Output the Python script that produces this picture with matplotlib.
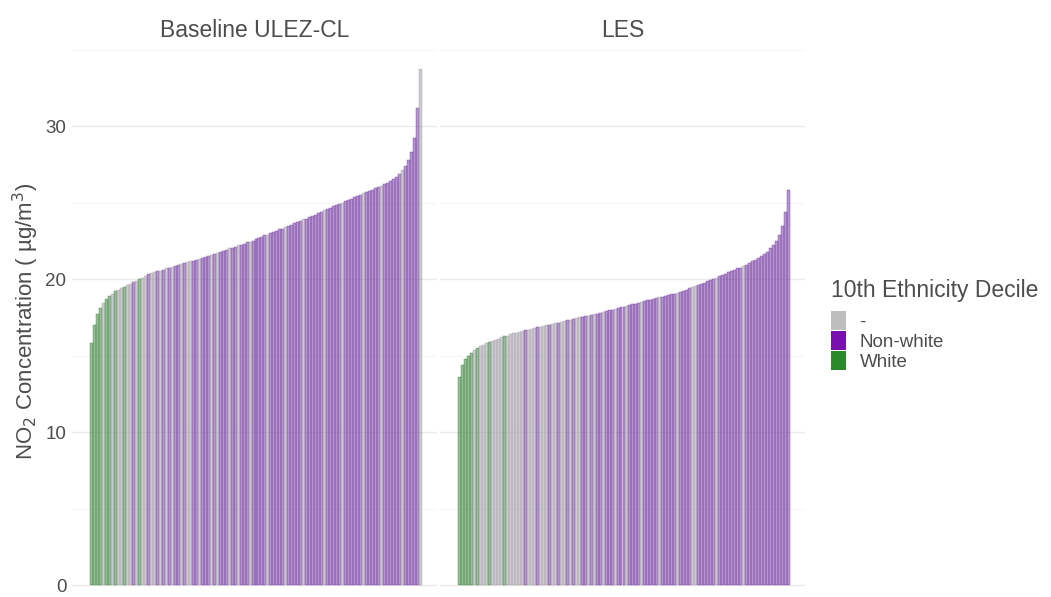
import matplotlib
matplotlib.use("Agg")
import matplotlib.pyplot as plt
from matplotlib.patches import Patch
from matplotlib.colors import to_rgba
import numpy as np

plt.rcParams['font.family'] = ['Liberation Sans', 'DejaVu Sans']

# Sorted NO2 concentration per area (ug/m3)
baseline_no2 = [
    15.8, 17.0, 17.7, 18.1, 18.45, 18.7, 18.9, 19.05, 19.2, 19.3,
    19.4, 19.5, 19.6, 19.7, 19.8, 19.9, 20.0, 20.1, 20.2, 20.3,
    20.4, 20.45, 20.5, 20.55, 20.6, 20.7, 20.75, 20.8, 20.85, 20.9,
    21.0, 21.05, 21.1, 21.15, 21.2, 21.25, 21.3, 21.4, 21.45, 21.5,
    21.6, 21.65, 21.7, 21.8, 21.85, 21.9, 22.0, 22.05, 22.1, 22.2,
    22.25, 22.3, 22.4, 22.45, 22.5, 22.6, 22.7, 22.75, 22.85, 22.9,
    23.0, 23.1, 23.15, 23.25, 23.3, 23.4, 23.5, 23.55, 23.65, 23.7,
    23.8, 23.9, 23.95, 24.05, 24.15, 24.2, 24.3, 24.4, 24.5, 24.55,
    24.65, 24.75, 24.85, 24.9, 25.0, 25.1, 25.2, 25.25, 25.35, 25.45,
    25.5, 25.6, 25.7, 25.75, 25.85, 25.95, 26.0, 26.1, 26.2, 26.3,
    26.4, 26.55, 26.7, 26.9, 27.1, 27.4, 27.8, 28.3, 29.2, 31.2, 33.7,
]
les_no2 = [
    13.6, 14.4, 14.75, 15.0, 15.2, 15.35, 15.5, 15.6, 15.7, 15.8,
    15.9, 15.95, 16.05, 16.1, 16.2, 16.25, 16.3, 16.4, 16.45, 16.5,
    16.55, 16.6, 16.65, 16.7, 16.75, 16.8, 16.85, 16.9, 16.95, 17.0,
    17.0, 17.05, 17.1, 17.15, 17.2, 17.25, 17.3, 17.35, 17.4, 17.45,
    17.5, 17.55, 17.6, 17.6, 17.65, 17.7, 17.75, 17.8, 17.85, 17.9,
    17.95, 18.0, 18.05, 18.1, 18.15, 18.2, 18.25, 18.3, 18.35, 18.4,
    18.45, 18.5, 18.55, 18.6, 18.65, 18.7, 18.75, 18.8, 18.85, 18.9,
    18.95, 19.0, 19.05, 19.1, 19.15, 19.25, 19.3, 19.4, 19.45, 19.55,
    19.6, 19.7, 19.75, 19.85, 19.95, 20.0, 20.1, 20.2, 20.25, 20.35,
    20.45, 20.5, 20.6, 20.7, 20.75, 20.85, 20.95, 21.05, 21.15, 21.25,
    21.35, 21.5, 21.65, 21.8, 22.0, 22.2, 22.5, 22.9, 23.5, 24.4, 25.8,
]

# ethnicity group per bar: W = White, N = Non-white, - = neither
baseline_group = ("WWWW-WW-W-" "-W--N-W--N" "--N-N-N-NN" "-N--NN-NNN"
                  "-N-NNN-NN-" "NNN-NNNNN-" "NNNNN-NNNN" "N-NNNNNN-N"
                  "NNNN-NNNNN" "N-NNNNN-NN" "NNNN-NNNNN-")
les_group = ("WWWWW-W---" "W----W----" "--N---N---" "N--N--N-N-"
             "-NN-N-NN-N" "NN-NNN-NNN" "N-NNNNN-NN" "NNN-NNNN--"
             "NNNNNN-NNN" "NNNNN-NNNN" "NNNNNNNNNNN")

panels = ['Baseline ULEZ-CL', 'LES']
group_names = {'-': '-', 'N': 'Non-white', 'W': 'White'}
group_colors = {'-': '#bebebe', 'N': '#7a0fb0', 'W': '#2a8a2a'}
bar_colors = {'-': '#9c99a2', 'N': '#6c2c9c', 'W': '#2e7d32'}

fig = plt.figure(figsize=(10.51, 5.97), dpi=100)
ax_left = fig.add_axes([72/1051, 0, 365/1051, 552/597])
ax_right = fig.add_axes([440/1051, 0, 365/1051, 552/597])

for ax, title, vals, groups in [(ax_left, panels[0], baseline_no2, baseline_group),
                                 (ax_right, panels[1], les_no2, les_group)]:
    x = np.arange(len(vals))
    faces = [to_rgba(bar_colors[g], 0.5) for g in groups]
    edges = [to_rgba(bar_colors[g], 0.75) for g in groups]
    ax.bar(x, vals, width=1.0, color=faces, edgecolor=edges, linewidth=0.35, zorder=2)
    ax.set_xlim(-6.5, 115.5)
    ax.set_ylim(-0.78, 35.3)
    ax.set_yticks([0, 10, 20, 30])
    ax.set_yticks([5, 15, 25, 35], minor=True)
    ax.grid(axis='y', which='major', color='#ebebeb', linewidth=1.0, zorder=0)
    ax.grid(axis='y', which='minor', color='#f4f4f4', linewidth=0.6, zorder=0)
    ax.set_xticks([])
    for s in ax.spines.values():
        s.set_visible(False)
    ax.tick_params(axis='y', which='both', length=0, labelsize=13.5,
                   labelcolor='#4d4d4d', pad=4)
    ax.set_title(title, fontsize=16.5, color='#4d4d4d', pad=6, y=1.0)

ax_right.tick_params(axis='y', labelleft=False)
ax_left.set_ylabel('NO$_2$ Concentration ( µg/m$^3$)', fontsize=16,
                   color='#4d4d4d', labelpad=3)

handles = [Patch(facecolor=group_colors[k], edgecolor='none') for k in ['-', 'N', 'W']]
leg = fig.legend(handles, [group_names[k] for k in ['-', 'N', 'W']],
                 loc='upper left', bbox_to_anchor=(822/1051, 1 - 270/597),
                 frameon=False, title='10th Ethnicity Decile', title_fontsize=16.5,
                 fontsize=13.5, handlelength=0.8, handleheight=1.2,
                 labelspacing=0.0, handletextpad=0.7, borderpad=0)
leg._legend_box.align = 'left'
leg._legend_box.sep = 6
leg.get_title().set_color('#4d4d4d')
for t in leg.get_texts():
    t.set_color('#4d4d4d')

fig.savefig('out.png', dpi=100, facecolor='white')
